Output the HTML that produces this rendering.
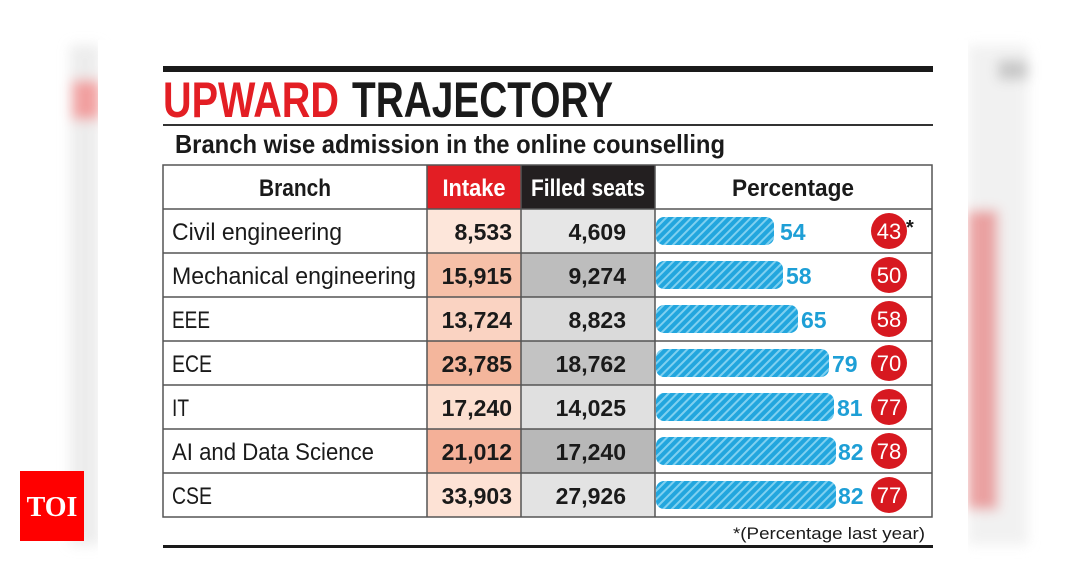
<!DOCTYPE html>
<html><head><meta charset="utf-8"><style>
html,body{margin:0;padding:0;background:#fff;}
svg{display:block;}
text{font-family:"Liberation Sans Narrow","Liberation Sans",sans-serif;}
</style></head><body>
<svg width="1068" height="580" viewBox="0 0 1068 580" xmlns="http://www.w3.org/2000/svg">
<defs>
<pattern id="h" width="6" height="6" patternUnits="userSpaceOnUse" patternTransform="rotate(45)">
<rect width="6" height="6" fill="#22a6de"/><rect width="2" height="6" fill="#7fd0f0"/>
</pattern>
<filter id="b"><feGaussianBlur stdDeviation="6"/></filter>
</defs>
<rect width="1068" height="580" fill="#fff"/>
<!-- blurred sides -->
<g filter="url(#b)" opacity="0.8">
<rect x="70" y="45" width="30" height="500" fill="#e8e8e8"/>
<rect x="72" y="80" width="28" height="40" fill="#e88"/>
<rect x="968" y="45" width="60" height="500" fill="#eee"/>
<rect x="968" y="210" width="30" height="300" fill="#e58a8a"/>
<rect x="998" y="60" width="30" height="20" fill="#bbb"/>
</g>
<rect x="98" y="40" width="870" height="540" fill="#fff"/>
<!-- TOI -->
<rect x="20" y="471" width="64" height="70" fill="#f00"/>
<text x="52" y="516" text-anchor="middle" font-family="Liberation Serif,serif" style="font-family:'Liberation Serif',serif" font-size="28" font-weight="bold" fill="#fff">TOI</text>
<!-- top line -->
<rect x="163" y="66" width="770" height="6" fill="#1a1a1a"/>
<text x="163" y="117" font-size="50" font-weight="bold" fill="#e31e24" textLength="176" lengthAdjust="spacingAndGlyphs">UPWARD</text>
<text x="352" y="117" font-size="50" font-weight="bold" fill="#1a1a1a" textLength="261" lengthAdjust="spacingAndGlyphs">TRAJECTORY</text>
<rect x="163" y="124" width="770" height="2" fill="#333"/>
<text x="175" y="153" font-size="26" font-weight="bold" fill="#1a1a1a" textLength="550" lengthAdjust="spacingAndGlyphs">Branch wise admission in the online counselling</text>
<!-- header -->
<rect x="427" y="165" width="94" height="44" fill="#e31e24"/>
<rect x="521" y="165" width="134" height="44" fill="#231f20"/>
<g font-size="24" font-weight="bold">
<text x="295" y="196" text-anchor="middle" fill="#1a1a1a" textLength="72" lengthAdjust="spacingAndGlyphs">Branch</text>
<text x="474" y="196" text-anchor="middle" fill="#fff" textLength="63" lengthAdjust="spacingAndGlyphs">Intake</text>
<text x="588" y="196" text-anchor="middle" fill="#fff" textLength="114" lengthAdjust="spacingAndGlyphs">Filled seats</text>
<text x="793" y="196" text-anchor="middle" fill="#1a1a1a" textLength="122" lengthAdjust="spacingAndGlyphs">Percentage</text>
</g>
<!-- rows -->
<g id="rows">
<rect x="427" y="209" width="94" height="44" fill="#fde6da"/><rect x="521" y="209" width="134" height="44" fill="#e6e6e6"/>
<rect x="427" y="253" width="94" height="44" fill="#f6c0a8"/><rect x="521" y="253" width="134" height="44" fill="#bdbdbd"/>
<rect x="427" y="297" width="94" height="44" fill="#fad3c2"/><rect x="521" y="297" width="134" height="44" fill="#dadada"/>
<rect x="427" y="341" width="94" height="44" fill="#f4b69c"/><rect x="521" y="341" width="134" height="44" fill="#c3c3c3"/>
<rect x="427" y="385" width="94" height="44" fill="#fcdfd0"/><rect x="521" y="385" width="134" height="44" fill="#e0e0e0"/>
<rect x="427" y="429" width="94" height="44" fill="#f4b098"/><rect x="521" y="429" width="134" height="44" fill="#b8b8b8"/>
<rect x="427" y="473" width="94" height="44" fill="#fde2d5"/><rect x="521" y="473" width="134" height="44" fill="#e3e3e3"/>
</g>
<!-- grid -->
<g stroke="#555" stroke-width="1.5" fill="none">
<rect x="163" y="165" width="769" height="352"/>
<line x1="163" y1="209" x2="932" y2="209"/><line x1="163" y1="253" x2="932" y2="253"/>
<line x1="163" y1="297" x2="932" y2="297"/><line x1="163" y1="341" x2="932" y2="341"/>
<line x1="163" y1="385" x2="932" y2="385"/><line x1="163" y1="429" x2="932" y2="429"/>
<line x1="163" y1="473" x2="932" y2="473"/>
<line x1="427" y1="165" x2="427" y2="517"/><line x1="521" y1="165" x2="521" y2="517"/><line x1="655" y1="165" x2="655" y2="517"/>
</g>
<g font-size="24" fill="#1a1a1a">
<text x="172" y="240" textLength="170" lengthAdjust="spacingAndGlyphs">Civil engineering</text>
<text x="172" y="284" textLength="244" lengthAdjust="spacingAndGlyphs">Mechanical engineering</text>
<text x="172" y="328" textLength="38" lengthAdjust="spacingAndGlyphs">EEE</text>
<text x="172" y="372" textLength="40" lengthAdjust="spacingAndGlyphs">ECE</text>
<text x="172" y="416" textLength="17" lengthAdjust="spacingAndGlyphs">IT</text>
<text x="172" y="460" textLength="202" lengthAdjust="spacingAndGlyphs">AI and Data Science</text>
<text x="172" y="504" textLength="40" lengthAdjust="spacingAndGlyphs">CSE</text>
</g>
<g font-size="23" font-weight="bold" fill="#1a1a1a" text-anchor="end">
<text x="512" y="240">8,533</text><text x="626" y="240">4,609</text>
<text x="512" y="284">15,915</text><text x="626" y="284">9,274</text>
<text x="512" y="328">13,724</text><text x="626" y="328">8,823</text>
<text x="512" y="372">23,785</text><text x="626" y="372">18,762</text>
<text x="512" y="416">17,240</text><text x="626" y="416">14,025</text>
<text x="512" y="460">21,012</text><text x="626" y="460">17,240</text>
<text x="512" y="504">33,903</text><text x="626" y="504">27,926</text>
</g>
<!-- bars -->
<g fill="url(#h)">
<rect x="656" y="217" width="118" height="28" rx="8"/>
<rect x="656" y="261" width="127" height="28" rx="8"/>
<rect x="656" y="305" width="142" height="28" rx="8"/>
<rect x="656" y="349" width="173" height="28" rx="8"/>
<rect x="656" y="393" width="178" height="28" rx="8"/>
<rect x="656" y="437" width="180" height="28" rx="8"/>
<rect x="656" y="481" width="180" height="28" rx="8"/>
</g>
<g font-size="23" font-weight="bold" fill="#1e9fd6">
<text x="780" y="240">54</text><text x="786" y="284">58</text><text x="801" y="328">65</text>
<text x="832" y="372">79</text><text x="837" y="416">81</text><text x="838" y="460">82</text><text x="838" y="504">82</text>
</g>
<g fill="#d71920">
<circle cx="889" cy="231" r="18"/><circle cx="889" cy="275" r="18"/><circle cx="889" cy="319" r="18"/>
<circle cx="889" cy="363" r="18"/><circle cx="889" cy="407" r="18"/><circle cx="889" cy="451" r="18"/><circle cx="889" cy="495" r="18"/>
</g>
<g font-size="22" fill="#fff" text-anchor="middle">
<text x="889" y="239">43</text><text x="889" y="283">50</text><text x="889" y="327">58</text>
<text x="889" y="371">70</text><text x="889" y="415">77</text><text x="889" y="459">78</text><text x="889" y="503">77</text>
</g>
<text x="906" y="234" font-size="20" font-weight="bold" fill="#1a1a1a">*</text>
<text x="925" y="539" font-size="17" fill="#1a1a1a" text-anchor="end" textLength="192" lengthAdjust="spacingAndGlyphs">*(Percentage last year)</text>
<rect x="163" y="545" width="770" height="3" fill="#1a1a1a"/>
</svg>
</body></html>
